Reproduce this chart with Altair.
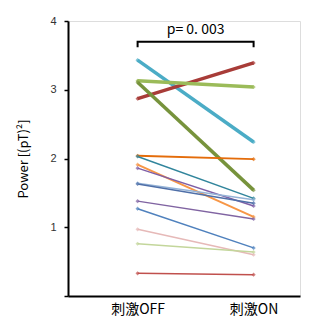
import altair as alt
import pandas as pd

conditions = ["刺激OFF", "刺激ON"]
off_vals = [3.43, 2.87, 3.13, 3.11, 2.04, 2.03, 1.91, 1.86, 1.64, 1.63, 1.38, 1.27, 0.97, 0.76, 0.33]
on_vals  = [2.24, 3.39, 3.04, 1.54, 1.99, 1.42, 1.15, 1.31, 1.40, 1.35, 1.12, 0.70, 0.60, 0.64, 0.31]
colors   = ["#4bacc6", "#a83c38", "#9bbb59", "#77933c", "#e46c0a", "#31859c", "#f79646", "#7f5fa6",
            "#95b3d7", "#4f6fa8", "#8064a2", "#4f81bd", "#e6b9b8", "#c3d69b", "#c0504d"]
widths   = [3.5, 3.5, 3.5, 3.5, 1.8, 1.5, 2.0, 1.5, 1.5, 1.5, 1.5, 1.5, 1.5, 1.5, 1.5]
p_text = "p= 0. 003"
y_ticks = [0, 1, 2, 3, 4]

rows = []
for i, (a, b) in enumerate(zip(off_vals, on_vals)):
    rows.append({"subject": i, "cond": 0, "value": a, "color": colors[i], "w": widths[i]})
    rows.append({"subject": i, "cond": 1, "value": b, "color": colors[i], "w": widths[i]})
df = pd.DataFrame(rows)

xscale = alt.Scale(domain=[-0.492, 1.265])
yscale = alt.Scale(domain=[0, 4], nice=False)

x_enc = alt.X("cond:Q", scale=xscale,
              axis=alt.Axis(values=[0, 1], title=None, ticks=False, grid=False,
                            labelExpr="datum.value == 0 ? '" + conditions[0] + "' : '" + conditions[1] + "'",
                            labelFont="Noto Sans CJK JP", labelFontSize=14, labelColor="#000",
                            labelPadding=6, domainColor="#000", domainWidth=2))
y_enc = alt.Y("value:Q", scale=yscale,
              axis=alt.Axis(values=y_ticks, title="Power [(pT)²]", grid=False, format="d",
                            labelExpr="datum.value == 0 ? '' : datum.label",
                            labelFont="Liberation Sans", labelFontSize=11, labelColor="#333",
                            titleFont="Noto Sans CJK JP", titleFontSize=13, titleFontWeight="normal",
                            titleColor="#000", titlePadding=19,
                            tickSize=4, tickColor="#000", tickWidth=1.5,
                            domainColor="#000", domainWidth=2, labelPadding=8))

lines = alt.Chart(df).mark_line().encode(
    x=x_enc, y=y_enc,
    detail="subject:N",
    color=alt.Color("color:N", scale=None),
    strokeWidth=alt.StrokeWidth("w:Q", scale=None),
)
points = alt.Chart(df).mark_point(shape="diamond", filled=True, size=18).encode(
    x="cond:Q", y="value:Q",
    color=alt.Color("color:N", scale=None),
)

br = pd.DataFrame({"x": [0, 0, 1, 1], "y": [3.62, 3.70, 3.70, 3.62], "i": [0, 1, 2, 3]})
bracket = alt.Chart(br).mark_line(color="#000", strokeWidth=2).encode(
    x="x:Q", y="y:Q", order="i:Q")

ptext = alt.Chart(pd.DataFrame({"x": [0.5], "y": [3.77], "t": [p_text]})).mark_text(
    font="Noto Sans CJK JP", fontSize=14, color="#000", baseline="bottom"
).encode(x="x:Q", y="y:Q", text="t:N")

chart = alt.layer(lines, points, bracket, ptext).properties(
    width=232, height=275, autosize="none",
    padding={"left": 60, "top": 13, "right": 12, "bottom": 24}
).configure_view(stroke=None).configure(background="white")

chart.save("out.html", embed_options={"renderer": "svg", "actions": False})
